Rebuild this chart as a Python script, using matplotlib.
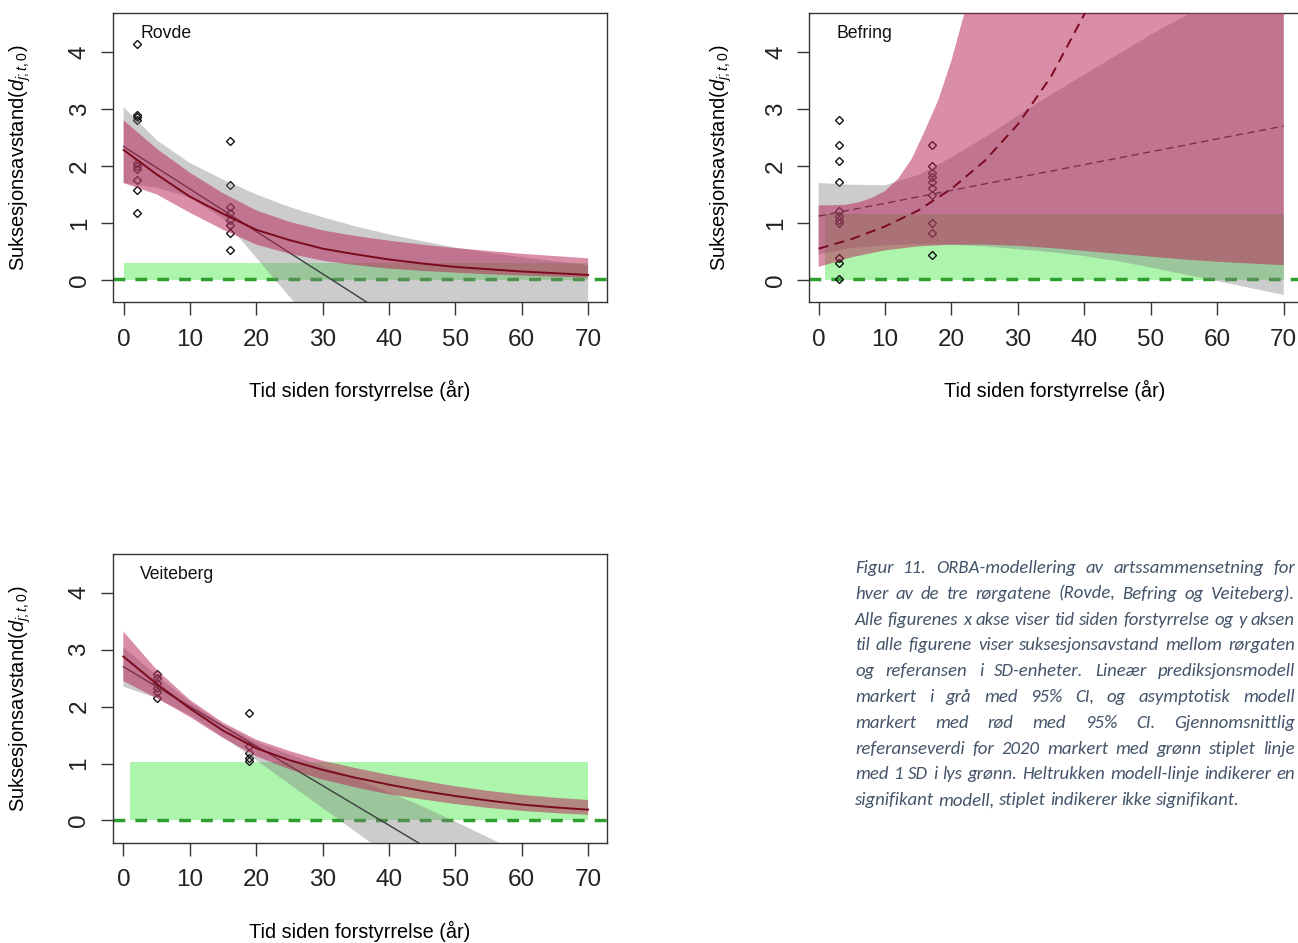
import numpy as np
import matplotlib
matplotlib.use("Agg")
import matplotlib.pyplot as plt

plt.rcParams["font.family"] = ["Liberation Sans", "DejaVu Sans"]
plt.rcParams["mathtext.fontset"] = "custom"
plt.rcParams["mathtext.rm"] = "Liberation Sans"
plt.rcParams["mathtext.it"] = "Liberation Sans:italic"

W, H = 1298, 943

# === Data ===
grid = [0, 5, 10, 15, 20, 25, 30, 35, 40, 45, 50, 55, 60, 65, 70]

# Rovde
rovde_pts_x = [2] * 10 + [16] * 8
rovde_pts_y = [4.13, 2.90, 2.86, 2.80, 2.06, 2.00, 1.95, 1.75, 1.58, 1.18,
               2.44, 1.66, 1.28, 1.17, 1.05, 0.96, 0.82, 0.53]
rovde_asym = [2.28, 1.85, 1.46, 1.16, 0.88, 0.70, 0.55, 0.45, 0.36, 0.29, 0.23, 0.19, 0.15, 0.12, 0.09]
rovde_pink_hi = [2.80, 2.30, 1.88, 1.52, 1.22, 1.02, 0.87, 0.77, 0.69, 0.62, 0.56, 0.51, 0.46, 0.42, 0.38]
rovde_pink_lo = [1.70, 1.50, 1.18, 0.88, 0.62, 0.46, 0.34, 0.26, 0.20, 0.16, 0.13, 0.10, 0.08, 0.06, 0.04]
rovde_gray_hi = [3.03, 2.45, 2.05, 1.76, 1.50, 1.28, 1.10, 0.94, 0.80, 0.68, 0.57, 0.48, 0.40, 0.33, 0.26]
rovde_gray_lo = [1.70, 1.62, 1.45, 1.07, 0.39, -0.29, -0.97, -1.65, -2.30, -3.00, -3.70, -4.40, -5.10, -5.80, -6.50]
rovde_lin_x = [0, 70]
rovde_lin_y = [2.34, -2.87]
rovde_ref = 0.01
rovde_ref_band = (0, 70, 0.30)

# Befring
befring_pts_x = [3] * 11 + [17] * 10
befring_pts_y = [2.80, 2.36, 2.09, 1.72, 1.21, 1.12, 1.05, 1.00, 0.38, 0.29, 0.01,
                 2.36, 1.99, 1.87, 1.81, 1.72, 1.61, 1.49, 1.00, 0.82, 0.44]
befring_asym_x = [0, 5, 10, 15, 20, 25, 30, 35, 40, 45]
befring_asym = [0.55, 0.72, 0.94, 1.22, 1.60, 2.09, 2.73, 3.57, 4.66, 6.10]
befring_pink_hi_x = [0, 2, 4, 6, 8, 10, 12, 14, 16, 18, 20, 22, 24, 30, 40, 50, 60, 70]
befring_pink_hi = [1.31, 1.31, 1.32, 1.36, 1.44, 1.56, 1.78, 2.12, 2.62, 3.15, 3.85, 4.70, 5.70,
                   9.0, 15.0, 25.0, 40.0, 60.0]
befring_pink_lo = [0.23, 0.40, 0.52, 0.59, 0.62, 0.62, 0.60, 0.56, 0.51, 0.46, 0.41, 0.36, 0.32, 0.29, 0.26]
befring_gray_hi = [1.70, 1.67, 1.66, 1.84, 2.15, 2.50, 2.88, 3.25, 3.60, 3.95, 4.30, 4.62, 4.96, 5.30, 5.66]
befring_gray_lo = [0.45, 0.56, 0.61, 0.63, 0.62, 0.59, 0.54, 0.49, 0.42, 0.33, 0.22, 0.10, -0.02, -0.14, -0.26]
befring_lin_x = [0, 70]
befring_lin_y = [1.12, 2.70]
befring_ref = 0.01
befring_ref_band = (1, 70, 1.15)

# Veiteberg
veit_pts_x = [5] * 6 + [19] * 5
veit_pts_y = [2.58, 2.50, 2.42, 2.33, 2.25, 2.15,
              1.88, 1.30, 1.18, 1.10, 1.05]
veit_asym = [2.88, 2.40, 1.97, 1.58, 1.27, 1.06, 0.89, 0.75, 0.63, 0.52, 0.43, 0.35, 0.28, 0.23, 0.19]
veit_pink_hi = [3.32, 2.65, 2.12, 1.72, 1.42, 1.22, 1.05, 0.92, 0.80, 0.70, 0.60, 0.52, 0.45, 0.40, 0.36]
veit_pink_lo = [2.45, 2.15, 1.82, 1.45, 1.13, 0.90, 0.72, 0.58, 0.46, 0.37, 0.29, 0.22, 0.17, 0.13, 0.10]
veit_gray_hi = [3.05, 2.55, 2.08, 1.68, 1.38, 1.16, 0.95, 0.73, 0.50, 0.25, -0.02, -0.30, -0.58, -0.85, -1.10]
veit_gray_lo = [2.35, 2.15, 1.85, 1.47, 1.06, 0.64, 0.22, -0.20, -0.62, -1.05, -1.48, -1.90, -2.32, -2.75, -3.17]
veit_lin_x = [0, 70]
veit_lin_y = [2.70, -2.17]
veit_ref = 0.0
veit_ref_band = (1, 70, 1.03)

caption_lines = [
    "Figur 11. ORBA-modellering av artssammensetning for",
    "hver av de tre rørgatene (Rovde, Befring og Veiteberg).",
    "Alle figurenes x akse viser tid siden forstyrrelse og y aksen",
    "til alle figurene viser suksesjonsavstand mellom rørgaten",
    "og referansen i SD-enheter. Lineær prediksjonsmodell",
    "markert i grå med 95% CI, og asymptotisk modell",
    "markert med rød med 95% CI. Gjennomsnittlig",
    "referanseverdi for 2020 markert med grønn stiplet linje",
    "med 1 SD i lys grønn. Heltrukken modell-linje indikerer en",
    "signifikant modell, stiplet indikerer ikke signifikant.",
]

GRAY = (0.5, 0.5, 0.5, 0.4)
PINK = (0.72, 0.14, 0.34, 0.52)
GREEN_FILL = "#adf5ad"
GREEN_LINE = "#2e9e2e"
AXCOL = "#333333"
YLABEL = r"Suksesjonsavstand$(d_{j;t,0})$"
XLABEL = "Tid siden forstyrrelse (år)"


def add_axes_px(fig, left, top, right, bottom):
    return fig.add_axes([left / W, 1 - bottom / H, (right - left) / W, (bottom - top) / H])


def band(ax, x_hi, y_hi, x_lo, y_lo, color, z):
    xs = np.concatenate([x_hi, x_lo[::-1]])
    ys = np.concatenate([y_hi, y_lo[::-1]])
    ax.fill(xs, ys, color=color, lw=0, zorder=z)


def draw_panel(ax, name, pts_x, pts_y, gray_x, gray_hi, gray_lo, lin_x, lin_y,
               pink_hi_x, pink_hi, pink_lo_x, pink_lo, asym_x, asym_y,
               ref, ref_band, xlim, dashed):
    x0, x1, top = ref_band
    ax.fill_between([x0, x1], [0, 0], [top, top], color=GREEN_FILL, lw=0, zorder=1)
    ax.axhline(ref, color=GREEN_LINE, lw=2.5, dashes=(3.4, 2.9), zorder=2)
    ax.plot(pts_x, pts_y, ls="none", marker="D", ms=4.2, mfc="none", mec="#111111", mew=1.0, zorder=3)
    band(ax, np.array(gray_x), np.array(gray_hi), np.array(gray_x), np.array(gray_lo), GRAY, 4)
    ls = dict(dashes=(5.2, 3.3)) if dashed else dict(ls="-")
    ax.plot(lin_x, lin_y, color="#3a3f3a", lw=1.0, zorder=5, **ls)
    band(ax, np.array(pink_hi_x), np.array(pink_hi), np.array(pink_lo_x), np.array(pink_lo), PINK, 6)
    ax.plot(asym_x, asym_y, color="#7a0a1e", lw=1.4, zorder=7, **ls)

    ax.set_xlim(*xlim)
    ax.set_ylim(-0.39, 4.68)
    ax.set_xticks(range(0, 71, 10))
    ax.set_yticks(range(0, 5))
    ax.tick_params(direction="out", length=9, width=1.0, colors=AXCOL, labelcolor="#222222", labelsize=17.5)
    ax.tick_params(axis="x", pad=10)
    ax.tick_params(axis="y", labelrotation=90, pad=7)
    for lbl in ax.get_yticklabels():
        lbl.set_va("center")
    for sp in ax.spines.values():
        sp.set_color(AXCOL)
        sp.set_linewidth(1.0)
    ax.text(0.055, 0.93, name, transform=ax.transAxes, fontsize=12.7, va="center", ha="left",
            color="#111111", zorder=10)


def place_caption(fig, lines, x0, x1, y0, step, fs):
    r = fig.canvas.get_renderer()
    props = dict(family=["Carlito", "Lato", "DejaVu Sans"], style="italic", color="#44546a")

    def width(s, size):
        t = fig.text(0, 0, s, fontsize=size, **props)
        w = t.get_window_extent(r).width
        t.remove()
        return w

    space = width("a a", fs) - 2 * width("a", fs)
    natural = max(sum(width(w, fs) for w in ln.split()) + space * (len(ln.split()) - 1) for ln in lines)
    if natural > x1 - x0:
        fs *= (x1 - x0) / natural
    space = width("a a", fs) - 2 * width("a", fs)

    for i, ln in enumerate(lines):
        words = ln.split()
        widths = [width(w, fs) for w in words]
        if i < len(lines) - 1 and len(words) > 1:
            gap = (x1 - x0 - sum(widths)) / (len(words) - 1)
        else:
            gap = space
        x = x0
        y = y0 + i * step
        for w, wd in zip(words, widths):
            fig.text(x / W, 1 - y / H, w, fontsize=fs, va="center", ha="left", **props)
            x += wd + gap


def main():
    fig = plt.figure(figsize=(W / 100, H / 100), dpi=100)

    ax1 = add_axes_px(fig, 113, 13, 606.7, 302.3)
    draw_panel(ax1, "Rovde", rovde_pts_x, rovde_pts_y, grid, rovde_gray_hi, rovde_gray_lo,
               rovde_lin_x, rovde_lin_y, grid, rovde_pink_hi, grid, rovde_pink_lo,
               grid, rovde_asym, rovde_ref, rovde_ref_band, (-1.6, 72.8), False)

    ax2 = add_axes_px(fig, 809.3, 13, 1303, 302.3)
    draw_panel(ax2, "Befring", befring_pts_x, befring_pts_y, grid, befring_gray_hi, befring_gray_lo,
               befring_lin_x, befring_lin_y, befring_pink_hi_x, befring_pink_hi, grid, befring_pink_lo,
               befring_asym_x, befring_asym, befring_ref, befring_ref_band, (-1.4, 72.9), True)

    ax3 = add_axes_px(fig, 112.7, 554, 606.7, 842.7)
    draw_panel(ax3, "Veiteberg", veit_pts_x, veit_pts_y, grid, veit_gray_hi, veit_gray_lo,
               veit_lin_x, veit_lin_y, grid, veit_pink_hi, grid, veit_pink_lo,
               grid, veit_asym, veit_ref, veit_ref_band, (-1.6, 72.8), False)

    # axis titles placed where the reference puts them
    for cx, cy in [(20, 157.7), (721, 157.7), (20, 698.3)]:
        fig.text(cx / W, 1 - cy / H, YLABEL, rotation=90, ha="center", va="center", fontsize=14.5)
    for cx, cy in [(360, 390), (1055, 390), (360, 931)]:
        fig.text(cx / W, 1 - cy / H, XLABEL, ha="center", va="center", fontsize=14.3)

    place_caption(fig, caption_lines, 855, 1295, 568, 25.8, 13.5)

    fig.savefig("out.png", dpi=100)


if __name__ == "__main__":
    main()
